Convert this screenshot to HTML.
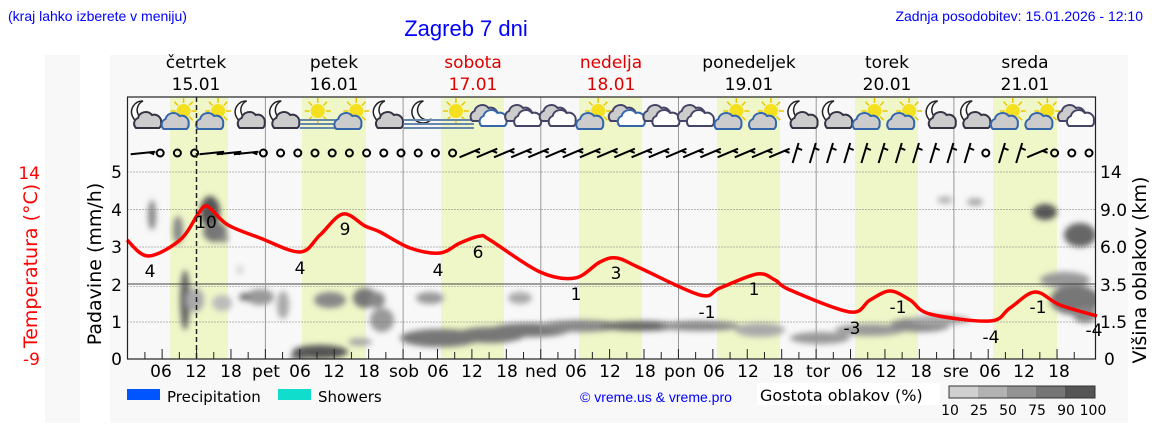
<!DOCTYPE html>
<html><head><meta charset="utf-8"><style>
body{margin:0;width:1152px;height:443px;background:#fff;overflow:hidden;font-family:"DejaVu Sans",sans-serif}
</style></head><body>
<svg id="s" width="1152" height="443" xmlns="http://www.w3.org/2000/svg" font-family="DejaVu Sans, sans-serif">
<defs>
<filter id="b1" x="-50%" y="-50%" width="200%" height="200%"><feGaussianBlur stdDeviation="3"/></filter>
<clipPath id="pc"><rect x="127.5" y="97" width="968" height="262"/></clipPath>
</defs>
<rect x="45" y="55" width="35" height="368" fill="#f8f8f8"/>
<rect x="110" y="55" width="1018" height="368" fill="#f8f8f8"/>
<text x="8" y="21" font-family="Liberation Sans, sans-serif" font-size="14" fill="#0000ff">(kraj lahko izberete v meniju)</text>
<text x="466" y="36" text-anchor="middle" font-family="Liberation Sans, sans-serif" font-size="22" fill="#0000ff">Zagreb 7 dni</text>
<text x="1143" y="21" text-anchor="end" font-family="Liberation Sans, sans-serif" font-size="14" fill="#0000ff">Zadnja posodobitev: 15.01.2026 - 12:10</text>
<g font-size="17" text-anchor="middle">
<text x="196" y="68">četrtek</text><text x="196" y="90">15.01</text>
<text x="334" y="68">petek</text><text x="334" y="90">16.01</text>
<text x="473" y="68" fill="#d00">sobota</text><text x="473" y="90" fill="#d00">17.01</text>
<text x="611" y="68" fill="#d00">nedelja</text><text x="611" y="90" fill="#d00">18.01</text>
<text x="749" y="68">ponedeljek</text><text x="749" y="90">19.01</text>
<text x="887" y="68">torek</text><text x="887" y="90">20.01</text>
<text x="1025" y="68">sreda</text><text x="1025" y="90">21.01</text>
</g>
<g id="bands"></g>
<g id="clouds" clip-path="url(#pc)" filter="url(#b1)"></g>
<g id="grid"></g>
<g id="icons"></g>
<g id="wind" stroke="#000" stroke-width="2" fill="none"></g>
<path id="temp" fill="none" stroke="#f00" stroke-width="3.5" stroke-linejoin="round"/>
<line x1="196.5" y1="97" x2="196.5" y2="359" stroke="#222" stroke-width="1.5" stroke-dasharray="5,3"/>
<rect x="127.5" y="97" width="968" height="262" fill="none" stroke="#222" stroke-width="1.2"/>
<g font-size="17" fill="#000" text-anchor="middle">
<text x="150" y="277">4</text><text x="206" y="228">10</text><text x="300" y="274">4</text><text x="345" y="235">9</text>
<text x="438" y="276">4</text><text x="478" y="258">6</text><text x="576" y="300">1</text><text x="616" y="279">3</text>
<text x="707" y="318">-1</text><text x="754" y="295">1</text><text x="852" y="334">-3</text><text x="898" y="313">-1</text>
<text x="991" y="343">-4</text><text x="1038" y="313">-1</text><text x="1094" y="336">-4</text>
</g>
<g font-size="17" text-anchor="end">
<text x="122" y="178">5</text><text x="122" y="216">4</text><text x="122" y="253">3</text><text x="122" y="291">2</text><text x="122" y="328">1</text><text x="122" y="365">0</text>
</g>
<g font-size="17" fill="#f00" text-anchor="end">
<text x="40" y="179">14</text><text x="40" y="365">-9</text>
</g>
<g font-size="17" text-anchor="start">
<text x="1100" y="178">14</text><text x="1100" y="216">9.0</text><text x="1100" y="253">6.0</text><text x="1100" y="291">3.5</text><text x="1100" y="328">1.5</text><text x="1104" y="365">0</text>
</g>
<text transform="translate(37,266) rotate(-90)" text-anchor="middle" font-size="19" fill="#f00">Temperatura (°C)</text>
<text transform="translate(101,264) rotate(-90)" text-anchor="middle" font-size="19">Padavine (mm/h)</text>
<text transform="translate(1146,270) rotate(-90)" text-anchor="middle" font-size="19">Višina oblakov (km)</text>
<g font-size="17" text-anchor="middle">
<text x="161" y="377">06</text><text x="196" y="377">12</text><text x="231" y="377">18</text><text x="266" y="377">pet</text>
<text x="300" y="377">06</text><text x="334" y="377">12</text><text x="369" y="377">18</text><text x="404" y="377">sob</text>
<text x="438" y="377">06</text><text x="472" y="377">12</text><text x="507" y="377">18</text><text x="541" y="377">ned</text>
<text x="576" y="377">06</text><text x="610" y="377">12</text><text x="645" y="377">18</text><text x="680" y="377">pon</text>
<text x="714" y="377">06</text><text x="748" y="377">12</text><text x="783" y="377">18</text><text x="818" y="377">tor</text>
<text x="852" y="377">06</text><text x="886" y="377">12</text><text x="921" y="377">18</text><text x="956" y="377">sre</text>
<text x="990" y="377">06</text><text x="1024" y="377">12</text><text x="1059" y="377">18</text>
</g>
<rect x="127" y="389" width="33" height="11" fill="#0055ff"/>
<text x="167" y="402" font-size="15">Precipitation</text>
<rect x="278" y="389" width="33" height="11" fill="#11ddcc"/>
<text x="318" y="402" font-size="15">Showers</text>
<text x="580" y="402" font-family="Liberation Sans, sans-serif" font-size="14" fill="#0000ff">© vreme.us &amp; vreme.pro</text>
<rect x="757" y="383" width="183" height="22" fill="#fff"/>
<text x="760" y="401" font-size="16">Gostota oblakov (%)</text>
<rect x="949" y="386" width="29" height="12" fill="#d0d0d0"/><rect x="978" y="386" width="29" height="12" fill="#b2b2b2"/>
<rect x="1007" y="386" width="29" height="12" fill="#939393"/><rect x="1036" y="386" width="29" height="12" fill="#757575"/>
<rect x="1065" y="386" width="30" height="12" fill="#555"/>
<rect x="949" y="386" width="146" height="12" fill="none" stroke="#333"/>
<g font-size="14" text-anchor="middle"><text x="950" y="415">10</text><text x="979" y="415">25</text><text x="1008" y="415">50</text><text x="1037" y="415">75</text><text x="1066" y="415">90</text><text x="1093" y="415">100</text></g>
</svg>
<script>
var NS="http://www.w3.org/2000/svg";
function el(p,t,a){var e=document.createElementNS(NS,t);for(var k in a)e.setAttribute(k,a[k]);document.getElementById(p).appendChild(e);return e;}
[[170,228],[302,366],[441,504],[579,642],[717,780],[855,918],[993,1057]].forEach(function(b){el("bands","rect",{x:b[0],y:97,width:b[1]-b[0],height:262,fill:"#eff6c8"});});
[172,209.5,247,322].forEach(function(y){el("grid","line",{x1:127.5,x2:1095,y1:y,y2:y,stroke:"#777","stroke-dasharray":"1,2"});});
el("grid","line",{x1:127.5,x2:1095,y1:284,y2:284,stroke:"#444","stroke-width":1});
el("grid","line",{x1:127.5,x2:1095,y1:286.5,y2:286.5,stroke:"#888","stroke-dasharray":"1,2"});
for(var d=1;d<7;d++){var x=127.7+137.7*d;el("grid","line",{x1:x,x2:x,y1:97,y2:359,stroke:"#999"});}
for(var i=1;i<56;i++){var x=127.7+17.21*i;el("grid","line",{x1:x,x2:x,y1:359,y2:i%2?352:349,stroke:"#222"});}
var C=[[152,215,4,15,"#888"],[178,230,5,14,"#888"],[210,212,10,16,"#555"],[215,232,12,10,"#777"],[224,238,4,5,"#888"],[185,300,5,30,"#666"],[195,300,9,12,"#aaa"],[222,303,10,8,"#bbb"],[240,270,3,4,"#ccc"],[260,297,14,8,"#999"],[283,305,6,14,"#aaa"],[330,300,16,8,"#888"],[365,298,12,10,"#777"],[382,320,12,12,"#999"],[377,300,8,8,"#888"],[430,298,14,6,"#999"],[520,298,12,6,"#aaa"],[320,352,28,7,"#555"],[300,357,10,3,"#666"],[360,342,12,4,"#aaa"],[440,338,40,9,"#777"],[490,335,35,8,"#777"],[530,330,40,7,"#777"],[580,326,40,6,"#888"],[640,326,40,5,"#666"],[700,326,40,5,"#888"],[760,330,25,7,"#aaa"],[820,338,30,6,"#999"],[870,330,35,6,"#999"],[920,325,30,7,"#888"],[940,320,30,5,"#aaa"],[945,200,8,4,"#bbb"],[975,202,8,4,"#aaa"],[1045,212,12,8,"#555"],[1080,235,16,12,"#666"],[1065,280,25,8,"#999"],[1075,300,25,15,"#777"],[1085,315,12,8,"#888"],[245,297,6,4,"#777"]];
C.forEach(function(c){el("clouds","ellipse",{cx:c[0],cy:c[1],rx:c[2],ry:c[3],fill:c[4]});});
var T=[[127,240],[148,256],[180,240],[198,214],[205,206],[212,210],[228,225],[260,238],[300,252],[320,235],[343,214],[365,226],[380,232],[410,248],[440,253],[460,243],[480,236],[490,240],[540,272],[575,278],[600,262],[617,258],[640,268],[700,295],[720,288],[757,274],[775,280],[790,290],[850,312],[870,300],[890,291],[910,300],[930,314],[990,321],[1010,308],[1035,292],[1060,305],[1097,316]];
var d="M"+T[0].join(",");
for(var i=0;i<T.length-1;i++){var p0=T[Math.max(i-1,0)],p1=T[i],p2=T[i+1],p3=T[Math.min(i+2,T.length-1)];
 d+=" C"+(p1[0]+(p2[0]-p0[0])/6)+","+(p1[1]+(p2[1]-p0[1])/6)+" "+(p2[0]-(p3[0]-p1[0])/6)+","+(p2[1]-(p3[1]-p1[1])/6)+" "+p2.join(",");}
document.getElementById("temp").setAttribute("d",d);
var types="mssmmfsmnfwccswccssmmssmmssc";
function cloud(g,x,y,fill,st){el(g,"path",{d:"M"+(x-12)+","+(y+7)+" a6,6 0 0 1 2,-10 a8,8 0 0 1 14,-3 a7,7 0 0 1 9,8 a5,5 0 0 1 -2,5 z",fill:fill,stroke:st,"stroke-width":2});}
function sun(g,x,y){for(var a=0;a<8;a++){var r=a*Math.PI/4;el(g,"line",{x1:x+8*Math.cos(r),y1:y+8*Math.sin(r),x2:x+13*Math.cos(r),y2:y+13*Math.sin(r),stroke:"#e8c800","stroke-width":1.5});}el(g,"circle",{cx:x,cy:y,r:7,fill:"#f5e020"});}
function moon(g,x,y){el(g,"path",{d:"M"+(x+2)+","+(y-12)+" a11,11 0 1 0 8,18 a9,9 0 0 1 -8,-18z",fill:"#fff",stroke:"#222","stroke-width":1.5});}
function fog(g,x,y){for(var j=0;j<3;j++)el(g,"line",{x1:x-18,x2:x+18,y1:y+3+j*4,y2:y+3+j*4,stroke:"#6688aa","stroke-width":2});}
for(var k=0;k<28;k++){var x=145+34.55*k,y=113,t=types[k];
 if(t=="m"){moon("icons",x-4,y);cloud("icons",x+3,y+8,"#ccc","#334");}
 else if(t=="s"){sun("icons",x+4,y-2);cloud("icons",x-4,y+9,"#ccc","#3366aa");}
 else if(t=="f"){sun("icons",x,y-2);fog("icons",x,y+4);}
 else if(t=="n"){moon("icons",x,y);fog("icons",x,y+4);}
 else if(t=="w"){cloud("icons",x-6,y+1,"#ccc","#446");cloud("icons",x+3,y+6,"#fff","#3366aa");}
 else {cloud("icons",x-6,y+1,"#ccc","#446");cloud("icons",x+3,y+6,"#fff","#446");}}
for(var k=0;k<56;k++){var x=143+17.2*k,y=153;
 var calm=(k>=1&&k<=3)||(k>=7&&k<=18)||k==49||k>=53;
 if(calm){el("wind","circle",{cx:x,cy:y,r:3.5});}
 else{var ang=(k>=38&&k<52)?(k>=42&&k<48?80:65):(k<8?10:35);var r=ang*Math.PI/180,L=15;
  var x1=x-L*Math.cos(r)/1.2,y1=y+L*Math.sin(r)/2,x2=x+L*Math.cos(r)/1.2,y2=y-L*Math.sin(r)/2;
  if(ang>=65){x1=x-4;y1=y+10;x2=x+2;y2=y-10;}
  el("wind","line",{x1:x1,y1:y1,x2:x2,y2:y2});el("wind","line",{x1:(x1+3*x2)/4,y1:(y1+3*y2)/4,x2:(x1+3*x2)/4+5,y2:(y1+3*y2)/4+2});}}
</script>
</body></html>
